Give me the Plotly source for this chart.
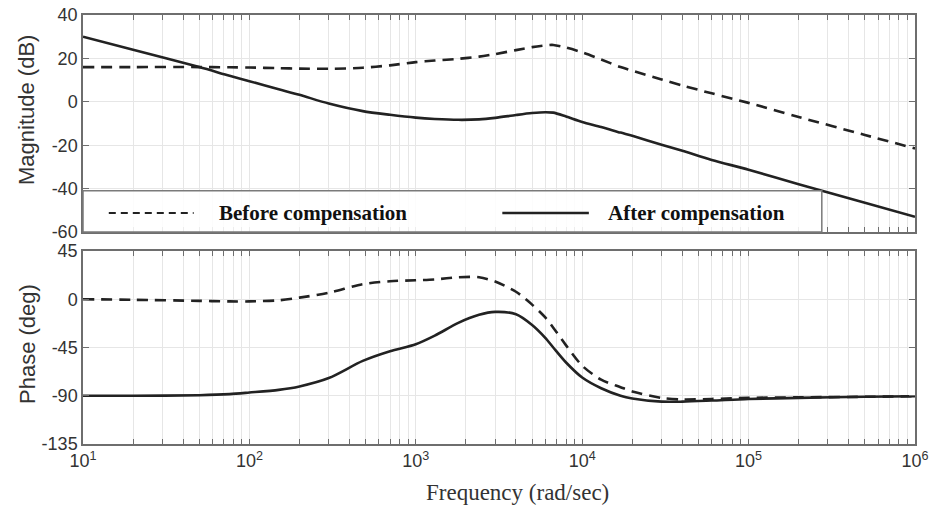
import plotly.graph_objects as go

# ---------------- data ----------------
freq = [10, 20, 50, 76, 100, 150, 200, 300, 480, 700, 1000, 1300, 1800, 2400,
        3000, 4000, 5000, 6000, 6700, 8000, 10000, 13000, 17000, 20000, 30000,
        40000, 60000, 100000, 200000, 500000, 1000000]

mag_before = [16, 16, 16, 15.9, 15.8, 15.5, 15.3, 15.2, 15.7, 16.8, 18.3, 19, 19.8, 20.8,
              22, 23.8, 25.2, 26, 26.2, 25, 22.8, 19.5, 16, 14.3, 10.3,
              7.5, 3.9, -0.5, -7, -15.3, -21.5]

mag_after = [30, 24, 16, 12, 9.5, 5.8, 3.2, -0.8, -4.3, -6, -7.3, -7.9, -8.3, -8.1,
             -7.4, -6.1, -5.2, -4.8, -5, -6.8, -9.3, -11.6, -14.2, -15.7, -19.8,
             -22.6, -26.8, -31.3, -38, -46.5, -53]

phase_before = [0, -0.5, -1.5, -2, -2, -1, 1.5, 6, 14, 16.8, 17.7, 18.5, 20.5, 20.5,
                16.5, 7, -5, -17, -26.5, -43, -62, -75, -82, -86, -92,
                -93.5, -93, -92, -91.5, -91, -90.5]

phase_after = [-90, -90, -89.5, -88.5, -87, -84.5, -81.3, -73.5, -57.5, -48.5, -42, -34, -22, -14.5,
               -11.8, -14, -24, -36, -45, -59, -73, -83, -90, -92.5, -95.5,
               -95.5, -94.5, -93, -92, -91, -90.5]

decades = [1, 2, 3, 4, 5]
mag_ticks = [-60, -40, -20, 0, 20, 40]
phase_ticks = [-135, -90, -45, 0, 45]

series_names = ["Before compensation", "After compensation"]
x_title = "Frequency (rad/sec)"
mag_title = "Magnitude (dB)"
phase_title = "Phase (deg)"

# ---------------- ticks ----------------
x_tickvals, x_ticktext = [], []
for e in decades:
    for m in range(1, 10):
        x_tickvals.append(m * 10 ** e)
        x_ticktext.append("10<sup>%d</sup>" % e if m == 1 else "")
x_tickvals.append(10 ** 6)
x_ticktext.append("10<sup>6</sup>")

LINE = "#222222"
FRAME = "#6e6e6e"
GRID = "#e6e6e6"
SANS = "Liberation Sans, Arial, sans-serif"
SERIF = "Liberation Serif, Times New Roman, serif"

fig = go.Figure()
dash_pat = "11px,7px"
fig.add_trace(go.Scatter(x=freq, y=mag_before, mode="lines", xaxis="x", yaxis="y",
                         line=dict(color=LINE, width=2.6, dash=dash_pat, shape="spline", smoothing=0.8),
                         name=series_names[0], showlegend=False))
fig.add_trace(go.Scatter(x=freq, y=mag_after, mode="lines", xaxis="x", yaxis="y",
                         line=dict(color=LINE, width=2.6, shape="spline", smoothing=0.8),
                         name=series_names[1], showlegend=False))
fig.add_trace(go.Scatter(x=freq, y=phase_before, mode="lines", xaxis="x2", yaxis="y2",
                         line=dict(color=LINE, width=2.6, dash=dash_pat, shape="spline", smoothing=0.8),
                         name=series_names[0], showlegend=False))
fig.add_trace(go.Scatter(x=freq, y=phase_after, mode="lines", xaxis="x2", yaxis="y2",
                         line=dict(color=LINE, width=2.6, shape="spline", smoothing=0.8),
                         name=series_names[1], showlegend=False))

xcommon = dict(type="log", range=[1, 6], tickvals=x_tickvals, ticktext=x_ticktext,
               showgrid=True, gridcolor=GRID, gridwidth=1, zeroline=False, automargin=False,
               showline=True, linecolor=FRAME, linewidth=1.5, mirror="ticks",
               ticks="inside", ticklen=5, tickcolor=FRAME, tickwidth=1)
ycommon = dict(showgrid=True, gridcolor=GRID, gridwidth=1, zeroline=False, automargin=False,
               showline=True, linecolor=FRAME, linewidth=1.5, mirror="ticks",
               ticks="inside", ticklen=6, tickcolor=FRAME, tickwidth=1,
               tickfont=dict(family=SANS, size=18, color="#333333"))

fig.update_layout(
    template="none",
    width=933, height=511,
    margin=dict(l=83, r=18, t=15, b=67, autoexpand=False),
    paper_bgcolor="white", plot_bgcolor="white",
    xaxis=dict(xcommon, domain=[0, 1], anchor="y", showticklabels=False),
    yaxis=dict(ycommon, domain=[0.4942, 1], anchor="x", range=[-60, 40],
               tickvals=mag_ticks, ticktext=[str(v) for v in mag_ticks]),
    xaxis2=dict(xcommon, domain=[0, 1], anchor="y2", showticklabels=True,
                tickfont=dict(family=SANS, size=18, color="#333333"), matches="x"),
    yaxis2=dict(ycommon, domain=[0, 0.4499], anchor="x2", range=[-135, 45],
                tickvals=phase_ticks, ticktext=[str(v) for v in phase_ticks]),
    showlegend=False,
)

# legend box drawn inside the magnitude panel
ly = 0.0876
fig.add_shape(type="rect", xref="x domain", yref="y domain", x0=0, x1=0.888, y0=0, y1=0.19,
              fillcolor="rgba(255,255,255,0.88)", line=dict(color="#7a7a7a", width=1.5), layer="above")
fig.add_shape(type="line", xref="x domain", yref="y domain", x0=0.031, x1=0.133, y0=ly, y1=ly,
              line=dict(color=LINE, width=2, dash="7px,5px"), layer="above")
fig.add_shape(type="line", xref="x domain", yref="y domain", x0=0.504, x1=0.608, y0=ly, y1=ly,
              line=dict(color=LINE, width=2.6), layer="above")
fig.add_annotation(text="<b>%s</b>" % series_names[0], xref="x domain", yref="y domain",
                   x=0.161, y=ly, xanchor="left", yanchor="middle", showarrow=False,
                   font=dict(family=SERIF, size=21, color="#111111"))
fig.add_annotation(text="<b>%s</b>" % series_names[1], xref="x domain", yref="y domain",
                   x=0.6286, y=ly, xanchor="left", yanchor="middle", showarrow=False,
                   font=dict(family=SERIF, size=21, color="#111111"))

# axis titles
fig.add_annotation(text=mag_title, xref="paper", yref="paper", x=-0.0673, y=0.7786,
                   xanchor="center", yanchor="middle", textangle=-90, showarrow=False,
                   font=dict(family=SANS, size=22, color="#333333"))
fig.add_annotation(text=phase_title, xref="paper", yref="paper", x=-0.0673, y=0.2331,
                   xanchor="center", yanchor="middle", textangle=-90, showarrow=False,
                   font=dict(family=SANS, size=22, color="#333333"))
fig.add_annotation(text=x_title, xref="paper", yref="paper", x=0.5228, y=-0.1142,
                   xanchor="center", yanchor="middle", showarrow=False,
                   font=dict(family=SERIF, size=23, color="#333333"))

fig.write_html("out.html", config={"displayModeBar": False},
               post_script="document.body.style.margin='0';document.body.style.overflow='hidden';")
